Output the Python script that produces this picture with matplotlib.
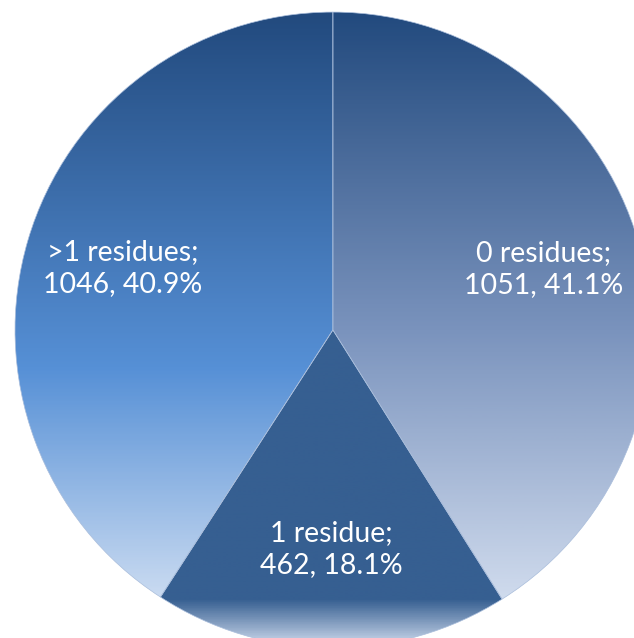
import numpy as np
import matplotlib
matplotlib.use("Agg")
import matplotlib.pyplot as plt
from matplotlib.colors import LinearSegmentedColormap

labels = ["0 residues", "1 residue", ">1 residues"]
counts = [1051, 462, 1046]

# vertical gradients (top -> bottom) for each slice, like the office chart fill
grads = [
    [(0.0, "#224a7e"), (0.5, "#7a93bd"), (1.0, "#dfe8f6")],
    [(0.0, "#365f91"), (0.85, "#365f91"), (1.0, "#d3def0")],
    [(0.0, "#224a7e"), (0.56, "#5690d6"), (1.0, "#e3ebf7")],
]

plt.rcParams['font.family'] = ['Lato', 'DejaVu Sans']

fig = plt.figure(figsize=(6.34, 6.38), dpi=100)
ax = fig.add_axes([0, 0, 1, 1])

total = sum(counts)
texts = [f"{l};\n{c}, {c / total * 100:.1f}%" for l, c in zip(labels, counts)]

wedges, lbls = ax.pie(counts, labels=texts, startangle=90, counterclock=False,
                      radius=1, labeldistance=0.69,
                      wedgeprops=dict(facecolor="none", edgecolor="#a9bddb", linewidth=0.5),
                      textprops=dict(color="white", fontsize=20.5))
for t in lbls:
    t.set_ha("center")
    t.set_va("center")
    t.set_linespacing(1.3)
    t.set_zorder(5)

grad = np.linspace(0, 1, 400).reshape(-1, 1)
for w, stops in zip(wedges, grads):
    cmap = LinearSegmentedColormap.from_list("g", stops)
    if stops[1][1] == stops[0][1]:
        ext = [-1, 1, -1, 0]  # bottom slice: gradient over its own box
    else:
        ext = [-1, 1, -1, 1]
    im = ax.imshow(grad, cmap=cmap, extent=ext, aspect="auto", zorder=1,
                   interpolation="bilinear")
    im.set_clip_path(w)
    w.set_zorder(2)

ax.set_xlim(-1.047, 0.947)
ax.set_ylim(-0.969, 1.038)
ax.set_aspect("equal")
ax.axis("off")

fig.savefig("out.png", dpi=100)
